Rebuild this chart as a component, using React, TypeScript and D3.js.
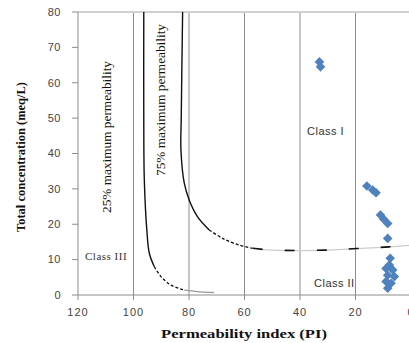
import React from 'react';
import * as d3 from 'd3';

// sample points
const piValues = [33, 32.6, 15.9, 13.8, 12.6, 11, 9.8, 8.4, 8.4, 7.5, 7.8, 9.0, 6.6, 8.4, 6.0, 9.0, 7.2, 8.4];
const concValues = [65.9, 64.5, 30.8, 29.7, 28.9, 22.6, 21.4, 20.2, 16, 10.4, 8.5, 7.5, 7.1, 5.6, 5.2, 3.8, 3.3, 1.9];

// 25% maximum permeability curve [PI, conc]
const curve25Solid = [[96.3, 80], [96.3, 50], [96.1, 32.5], [95.2, 18.4], [94.3, 11.8], [92.5, 8.0]];
const curve25Dotted = [[92.5, 8.0], [90.1, 5.2], [86.5, 2.8], [81.7, 1.4]];
const curve25Tail = [[81.7, 1.4], [76, 0.9], [71, 0.7]];

// 75% maximum permeability curve
const curve75Solid = [[82.3, 80], [82.8, 50], [82.9, 41], [81.7, 31.6], [79.9, 26.8], [76.9, 22.1], [72.7, 18.4]];
const curve75Dotted = [[72.7, 18.4], [67.9, 16.0], [61.9, 14.1], [57.0, 13.2]];
const curve75Tail = [[57.0, 13.2], [50, 12.7], [30, 12.7], [18, 13.2], [8, 13.6], [0, 14.1]];

const xTicks = [120, 100, 80, 60, 40, 20, 0];
const yTicks = [0, 10, 20, 30, 40, 50, 60, 70, 80];
const gridX = [100, 80, 60, 40, 20];

const App = () => {
    const width = 409;
    const height = 343;
    const left = 78, right = 411, top = 12, bottom = 295;

    const x = d3.scaleLinear().domain([120, 0]).range([left, right]);
    const y = d3.scaleLinear().domain([0, 80]).range([bottom, top]);

    const line = d3.line<number[]>()
        .x(d => x(d[0]))
        .y(d => y(d[1]))
        .curve(d3.curveCatmullRom);

    const diamond = d3.symbol().type(d3.symbolSquare).size(46)();

    const tickFont = '"Liberation Sans", Arial, sans-serif';
    const serif = '"Liberation Serif", "Times New Roman", serif';

    return (
        <svg width={width} height={height} style={{ position: 'absolute', left: 0, top: 0, background: '#fff' }}>
            {/* gridlines */}
            {gridX.map(g => (
                <line key={g} x1={x(g)} x2={x(g)} y1={top} y2={bottom} stroke="#8c8c8c" strokeWidth={1} />
            ))}
            <line x1={left} x2={width} y1={top} y2={top} stroke="#d0d0d0" strokeWidth={2} />
            <line x1={left} x2={left} y1={top} y2={bottom} stroke="#8c8c8c" />
            <line x1={left} x2={width} y1={bottom} y2={bottom} stroke="#8c8c8c" />

            {/* y ticks */}
            {yTicks.map(t => (
                <g key={t}>
                    <line x1={left - 6} x2={left} y1={y(t)} y2={y(t)} stroke="#8c8c8c" />
                    <text x={61} y={y(t)} dy="0.35em" textAnchor="end" fontSize={11} fill="#444" fontFamily={tickFont} letterSpacing={0.5}>{t}</text>
                </g>
            ))}
            {/* x ticks */}
            {xTicks.map(t => (
                <g key={t}>
                    <line x1={x(t)} x2={x(t)} y1={bottom} y2={bottom + 5} stroke="#8c8c8c" />
                    <text x={x(t)} y={316} textAnchor="middle" fontSize={11} fill="#444" fontFamily={tickFont} letterSpacing={1}>{t}</text>
                </g>
            ))}

            {/* curves */}
            <path d={line(curve25Solid) || ''} fill="none" stroke="#111" strokeWidth={1.4} />
            <path d={line(curve25Dotted) || ''} fill="none" stroke="#111" strokeWidth={1.3} strokeDasharray="3 2" />
            <path d={line(curve25Tail) || ''} fill="none" stroke="#999" strokeWidth={1.3} />
            <path d={line(curve75Solid) || ''} fill="none" stroke="#111" strokeWidth={1.4} />
            <path d={line(curve75Dotted) || ''} fill="none" stroke="#111" strokeWidth={1.3} strokeDasharray="3 2" />
            <path d={line(curve75Tail) || ''} fill="none" stroke="#ccc" strokeWidth={1.3} />
            <path d={line(curve75Tail) || ''} fill="none" stroke="#111" strokeWidth={1.6} strokeDasharray="10 22" />

            {/* samples */}
            {piValues.map((p, i) => (
                <path key={i} d={diamond || ''} fill="#4f81bd"
                    transform={`translate(${x(p)},${y(concValues[i])}) rotate(45)`} />
            ))}

            {/* annotations */}
            <text transform="translate(111,137) rotate(-90)" textAnchor="middle" fontSize={12} fontFamily={serif} fill="#111"
                textLength={152} lengthAdjust="spacingAndGlyphs">25% maximum permeability</text>
            <text transform="translate(165,100) rotate(-90)" textAnchor="middle" fontSize={12} fontFamily={serif} fill="#111"
                textLength={152} lengthAdjust="spacingAndGlyphs">75% maximum permeability</text>
            <text x={85} y={260} fontSize={11} fontFamily={serif} fill="#333" letterSpacing={0.5}>Class III</text>
            <text x={307} y={135} fontSize={11} fontFamily={tickFont} fill="#333" letterSpacing={0.5}>Class I</text>
            <text x={314} y={287} fontSize={11} fontFamily={tickFont} fill="#333" letterSpacing={0.5}>Class II</text>

            {/* axis titles */}
            <text transform="translate(25,157) rotate(-90)" textAnchor="middle" fontSize={12} fontWeight="bold" fontFamily={serif}
                fill="#111" textLength={150} lengthAdjust="spacingAndGlyphs">Total concentration (meq/L)</text>
            <text x={244} y={338} textAnchor="middle" fontSize={12} fontWeight="bold" fontFamily={serif} fill="#111"
                textLength={166} lengthAdjust="spacingAndGlyphs">Permeability index (PI)</text>
        </svg>
    );
};

export default App;
